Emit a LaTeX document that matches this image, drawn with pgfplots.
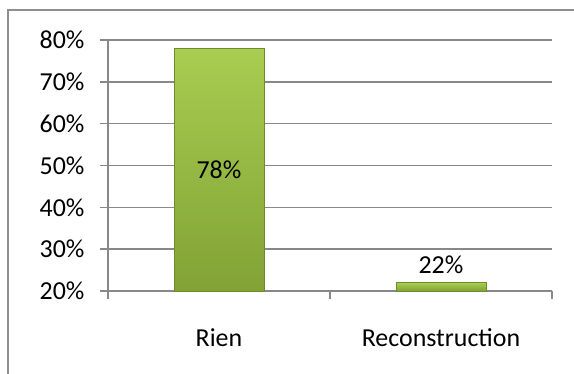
\documentclass[border=0pt]{standalone}
\usepackage{pgfplots}
\pgfplotsset{compat=1.18}
\usepackage{fontspec}
\setmainfont{Carlito}
\definecolor{gridc}{HTML}{888888}
\definecolor{framec}{HTML}{8E8E8E}
\definecolor{barTop}{HTML}{A8CD50}
\definecolor{barBot}{HTML}{82A236}
\definecolor{barEdge}{HTML}{6E8C2C}
\begin{document}
\begin{tikzpicture}
\useasboundingbox (0bp,0bp) rectangle (574bp,374bp);
\draw[framec, line width=2.5bp] (8bp,0bp) -- (8bp,364bp) -- (574bp,364bp);
\begin{axis}[
  at={(108bp,83bp)}, anchor=south west,
  scale only axis, width=444bp, height=251bp,
  xmin=-0.5, xmax=1.5, ymin=20, ymax=80,
  axis x line*=bottom, axis y line*=left,
  axis line style={gridc, line width=1.6bp, -},
  ymajorgrids, grid style={gridc, line width=1.6bp},
  ytick={20,30,40,50,60,70,80},
  yticklabels={20\%,30\%,40\%,50\%,60\%,70\%,80\%},
  xtick={-0.5,0.5,1.5}, xticklabels={,,},
  extra x ticks={0,1}, extra x tick labels={Rien,Reconstruction},
  extra x tick style={major tick length=0pt, xticklabel style={yshift=-34bp}},
  tick align=outside,
  major tick style={gridc, line width=1.6bp},
  major tick length=8bp,
  tick label style={font=\fontsize{26}{30}\selectfont, text=black},
  yticklabel style={xshift=-12bp},
  ybar, bar width=90bp, bar shift=0pt,
  clip=false,
]
\addplot[draw=barEdge, line width=0.6bp, top color=barTop, bottom color=barBot,
  nodes near coords={\pgfmathprintnumber[assume math mode=true]{\pgfplotspointmeta}\%},
  every node near coord/.append style={font=\fontsize{26}{30}\selectfont, text=black, anchor=center, yshift=-121bp}]
  coordinates {(0,78)};
\addplot[draw=barEdge, line width=0.6bp, top color=barTop, bottom color=barBot,
  nodes near coords={\pgfmathprintnumber[assume math mode=true]{\pgfplotspointmeta}\%},
  every node near coord/.append style={font=\fontsize{26}{30}\selectfont, text=black, anchor=south, yshift=5bp}]
  coordinates {(1,22)};
\end{axis}
\end{tikzpicture}
\end{document}
